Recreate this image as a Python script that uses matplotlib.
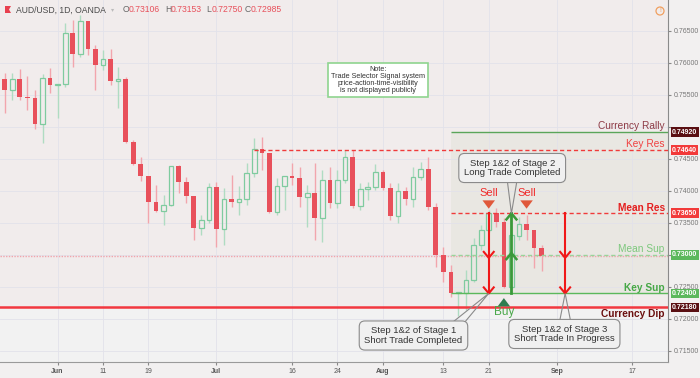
import numpy as np
import matplotlib
matplotlib.use("Agg")
import matplotlib.pyplot as plt
from matplotlib.patches import Polygon, Rectangle, Ellipse

plt.rcParams['font.family'] = ['Liberation Sans', 'DejaVu Sans']

# daily AUD/USD candles, 23 May - 30 Aug
opens = np.array([
    0.7575, 0.75578, 0.7575, 0.75469, 0.75453, 0.75047, 0.75766, 0.75656,
    0.75672, 0.76469, 0.76141, 0.76656, 0.76219, 0.75969, 0.76063, 0.75719,
    0.7575, 0.74766, 0.74422, 0.74234, 0.73828, 0.73688, 0.73781, 0.74391,
    0.74141, 0.73922, 0.73422, 0.73547, 0.74063, 0.73406, 0.73875, 0.73828,
    0.73875, 0.74281, 0.74656, 0.74594, 0.73672, 0.74078, 0.74234, 0.74203,
    0.73906, 0.73969, 0.73578, 0.74172, 0.73813, 0.74172, 0.74531, 0.73766,
    0.74031, 0.74063, 0.74297, 0.74047, 0.73609, 0.74, 0.73875, 0.74219,
    0.74344, 0.7375, 0.73, 0.72734, 0.72406, 0.72406, 0.72609, 0.73156,
    0.73391, 0.73656, 0.73516, 0.725, 0.73297, 0.73484, 0.73391, 0.73106])
highs = np.array([
    0.75844, 0.75844, 0.75906, 0.75797, 0.75578, 0.75828, 0.75922, 0.75672,
    0.76625, 0.76672, 0.7675, 0.76656, 0.76281, 0.76203, 0.76219, 0.75938,
    0.75781, 0.74797, 0.74531, 0.74234, 0.74094, 0.73938, 0.74391, 0.74406,
    0.74219, 0.73922, 0.73625, 0.74125, 0.74141, 0.74047, 0.7425, 0.74078,
    0.74438, 0.74828, 0.74844, 0.74594, 0.74203, 0.74234, 0.74438, 0.74375,
    0.74094, 0.74438, 0.74328, 0.74375, 0.74328, 0.74641, 0.74641, 0.74125,
    0.74141, 0.74422, 0.74328, 0.74125, 0.74125, 0.74063, 0.74375, 0.74453,
    0.74531, 0.73813, 0.73125, 0.72844, 0.72422, 0.72766, 0.73266, 0.73469,
    0.73703, 0.73734, 0.73578, 0.73359, 0.73594, 0.73625, 0.73391, 0.73153])
lows = np.array([
    0.75219, 0.75422, 0.75422, 0.75266, 0.74969, 0.7475, 0.75531, 0.75141,
    0.75625, 0.75938, 0.76094, 0.76125, 0.75578, 0.75891, 0.75656, 0.75297,
    0.7475, 0.74406, 0.74156, 0.735, 0.73672, 0.73469, 0.73766, 0.73969,
    0.73813, 0.73234, 0.73313, 0.735, 0.73125, 0.73156, 0.7375, 0.73625,
    0.73781, 0.74219, 0.74328, 0.73656, 0.73625, 0.73703, 0.74094, 0.7375,
    0.73438, 0.73234, 0.73203, 0.73734, 0.73734, 0.74125, 0.73734, 0.73703,
    0.73859, 0.74016, 0.74016, 0.73547, 0.735, 0.73781, 0.7375, 0.74172,
    0.73703, 0.72813, 0.72578, 0.72344, 0.72047, 0.72141, 0.72578, 0.73078,
    0.73359, 0.73438, 0.72484, 0.72484, 0.73234, 0.73234, 0.72797, 0.7275])
closes = np.array([
    0.75578, 0.7575, 0.75469, 0.75453, 0.75047, 0.75766, 0.75656, 0.75672,
    0.76469, 0.76141, 0.76656, 0.76219, 0.75969, 0.76063, 0.75719, 0.7575,
    0.74766, 0.74422, 0.74234, 0.73828, 0.73688, 0.73781, 0.74391, 0.74141,
    0.73922, 0.73422, 0.73547, 0.74063, 0.73406, 0.73875, 0.73828, 0.73875,
    0.74281, 0.74656, 0.74594, 0.73672, 0.74078, 0.74234, 0.74203, 0.73906,
    0.73969, 0.73578, 0.74172, 0.73813, 0.74172, 0.74531, 0.73766, 0.74031,
    0.74063, 0.74297, 0.74047, 0.73609, 0.74, 0.73875, 0.74219, 0.74344,
    0.7375, 0.73, 0.72734, 0.72406, 0.72422, 0.72609, 0.73156, 0.73391,
    0.73656, 0.73516, 0.725, 0.73313, 0.73484, 0.73391, 0.73109, 0.72985])

date_ticks = [7, 13, 19, 28, 38, 44, 50, 58, 64, 73, 83]
date_labels = ["Jun", "11", "19", "Jul", "16", "24", "Aug", "13", "21", "Sep", "17"]
price_ticks = [0.715, 0.72, 0.725, 0.73, 0.735, 0.74, 0.745, 0.75, 0.755, 0.76, 0.765]

rally, key_res, mean_res = 0.7492, 0.7464, 0.7365
mean_sup, key_sup, dip = 0.7300, 0.7240, 0.7218
last_close = 0.72985
zone_start = 59          # bar where the trade zone begins
sell_bars = [64, 69]
buy_bar = 66
short_arrows = [64, 74.1]
long_arrow = 67

XMIN, XMAX = -0.62, 87.7
YMIN, YMAX = 0.71328, 0.76984

fig = plt.figure(figsize=(7, 3.78), dpi=100, facecolor='#f2f0f0')
ax = fig.add_axes([0, 16 / 378, 668 / 700, 362 / 378])
ax.set_facecolor('#f2f2f2')
ax.set_xlim(XMIN, XMAX)
ax.set_ylim(YMIN, YMAX)

# background tints
ax.add_patch(Rectangle((XMIN, dip), XMAX - XMIN, YMAX - dip, fc='#f1ecec', ec='none', zorder=0))
ax.add_patch(Rectangle((zone_start, key_sup), XMAX - zone_start, rally - key_sup,
                       fc='#e6e6df', ec='none', alpha=0.7, zorder=0.5))

ax.set_axisbelow(True)
ax.grid(color='#e2e2ea', lw=0.6)

# candles
idx = np.arange(len(opens))
up = closes >= opens
lo = np.minimum(opens, closes)
hi = np.maximum(opens, closes)
h = np.maximum(hi - lo, 0.00012)
dn = ~up
ax.vlines(idx[dn], lows[dn], highs[dn], color='#f2a5ad', lw=1, zorder=3)
ax.bar(idx[dn], h[dn], bottom=lo[dn], width=0.62, color='#e8505b', zorder=4)
ax.vlines(idx[up], hi[up], highs[up], color='#afdcc2', lw=1, zorder=3)
ax.vlines(idx[up], lows[up], lo[up], color='#afdcc2', lw=1, zorder=3)
ax.bar(idx[up], h[up], bottom=lo[up], width=0.62, facecolor='none',
       edgecolor='#7fcb9f', lw=0.9, zorder=4)

# level lines
ax.axhline(last_close, color='#f0a4ac', lw=1, ls=(0, (1, 1)), zorder=2)
ax.axhline(dip, color='#f2373f', lw=1.8, zorder=5)
ax.hlines(rally, zone_start, XMAX, color='#5aa55a', lw=1, zorder=5)
ax.hlines(key_res, 33, XMAX, color='#f03a3a', lw=1, ls=(0, (3, 2)), zorder=5)
ax.hlines(mean_res, zone_start, XMAX, color='#f03a3a', lw=1, ls=(0, (3, 2)), zorder=5)
ax.hlines(mean_sup, zone_start, XMAX, color='#9ad49a', lw=1, ls=(0, (3, 2)), zorder=5)
ax.hlines(key_sup, zone_start, XMAX, color='#5cb85c', lw=1, zorder=5)

yt = ax.get_yaxis_transform()
lab = dict(transform=yt, ha='right', fontsize=7.3, zorder=8)
ax.text(0.995, rally + 0.0001, "Currency Rally", color='#8e3b46', va='bottom', **lab)
ax.text(0.995, key_res + 0.0001, "Key Res", color='#f04040', va='bottom', **lab)
ax.text(0.995, mean_res + 0.0001, "Mean Res", color='#e41e1e', va='bottom', fontweight='bold', **lab)
ax.text(0.995, mean_sup + 0.0001, "Mean Sup", color='#7dc87d', va='bottom', **lab)
ax.text(0.995, key_sup + 0.0001, "Key Sup", color='#46a846', va='bottom', fontweight='bold', **lab)
ax.text(0.995, dip - 0.0002, "Currency Dip", color='#6b0f0f', va='top', fontweight='bold', **lab)

# arrows: chevron sizes in data units
cw, chh = 0.66, 0.00094
for xa in short_arrows:
    ax.plot([xa, xa], [mean_res, key_sup], color='#f01818', lw=1.5, zorder=7)
    for tip in (mean_sup - 0.00045, key_sup):
        ax.plot([xa - cw, xa, xa + cw], [tip + chh, tip, tip + chh], color='#f01818', lw=1.5, zorder=7)
ax.plot([long_arrow, long_arrow], [key_sup, mean_res], color='#3a9a3a', lw=2, zorder=7)
for tip in (mean_res, mean_sup + 0.0003):
    ax.plot([long_arrow - cw, long_arrow, long_arrow + cw], [tip - chh, tip, tip - chh],
            color='#3a9a3a', lw=1.8, zorder=7)

for xs in sell_bars:
    ax.text(xs, 0.73969, "Sell", color='#f02a2a', fontsize=8, ha='center', va='center', zorder=8)
    ax.annotate("", xy=(xs, 0.73680), xytext=(xs, 0.73865),
                arrowprops=dict(arrowstyle='simple,head_width=0.9,head_length=0.6,tail_width=0.4',
                                fc='#e0583a', ec='none'), zorder=8)
ax.annotate("", xy=(buy_bar, 0.72370), xytext=(buy_bar, 0.72215),
            arrowprops=dict(arrowstyle='simple,head_width=0.9,head_length=0.6,tail_width=0.4',
                            fc='#2e7d4f', ec='none'), zorder=8)
ax.text(buy_bar, 0.72105, "Buy", color='#4aa84a', fontsize=8.5, ha='center', va='center', zorder=8)


def callout(x, y, text, base, tip):
    ax.add_patch(Polygon([base[0], tip, base[1]], closed=False, fill=False,
                         ec='#8a8a8a', lw=0.8, zorder=9))
    ax.text(x, y, text, ha='center', va='center', fontsize=6.8, color='#333333',
            linespacing=1.1, zorder=10,
            bbox=dict(boxstyle='round,pad=0.55,rounding_size=0.6', fc='#f0f0f0', ec='#8a8a8a', lw=0.8))


callout(67.1, 0.74359, "Step 1&2 of Stage 2\nLong Trade Completed",
        [(66.4, 0.74210), (67.8, 0.74210)], (long_arrow, mean_res))
callout(54.05, 0.71742, "Step 1&2 of Stage 1\nShort Trade Completed",
        [(58.6, 0.71890), (60.4, 0.71890)], (short_arrows[0], key_sup))
callout(74.0, 0.71766, "Step 1&2 of Stage 3\nShort Trade In Progress",
        [(73.3, 0.71920), (74.9, 0.71920)], (short_arrows[1], key_sup))

# note box
ax.text(49.4, 0.75734, "Note:\nTrade Selector Signal system\nprice-action-time-visibility\nis not displayed publicly",
        ha='center', va='center', fontsize=5.2, color='#333333', linespacing=0.95, zorder=10,
        bbox=dict(boxstyle='square,pad=0.4', fc='white', ec='#8fd48f', lw=1.2))

# axes styling
for s in ('top', 'left'):
    ax.spines[s].set_visible(False)
ax.spines['right'].set_color('#8a8a8a')
ax.spines['bottom'].set_color('#9a9a9a')
ax.yaxis.tick_right()
ax.set_yticks(price_ticks)
ax.set_yticklabels(["" if abs(p - 0.75) < 1e-9 or abs(p - 0.73) < 1e-9 else "%.5f" % p
                    for p in price_ticks])
ax.tick_params(axis='y', length=2.5, color='#888888', labelsize=5, labelcolor='#777777', pad=1.5)
ax.set_xticks(date_ticks)
ax.set_xticklabels(date_labels)
for t, l in zip(ax.get_xticklabels(), date_labels):
    if not l.isdigit():
        t.set_fontweight('bold')
ax.tick_params(axis='x', length=2.5, color='#888888', labelsize=5, labelcolor='#555555', pad=2)

# price tags on the scale
tags = [(rally, '#5a0f12'), (key_res, '#f23a3a'), (mean_res, '#f23a3a'),
        (mean_sup, '#5cb85c'), (key_sup, '#5cb85c'), (dip, '#5a0f12')]
for lvl, col in tags:
    ax.text(1.006, lvl, "%.5f" % lvl, transform=yt, ha='left', va='center', fontsize=5,
            color='white', fontweight='bold', clip_on=False, zorder=11,
            bbox=dict(boxstyle='square,pad=0.2', fc=col, ec='none'))

# header
fig.patches.append(Polygon([(5 / 700, 1 - 6 / 378), (11 / 700, 1 - 6 / 378), (9 / 700, 1 - 9.5 / 378),
                            (11 / 700, 1 - 13 / 378), (5 / 700, 1 - 13 / 378)],
                           closed=True, fc='#e8404f', ec='none', transform=fig.transFigure))
fig.text(16 / 700, 1 - 10 / 378, "AUD/USD, 1D, OANDA", fontsize=6.2, color='#4a4a4a', va='center')
fig.text(111 / 700, 1 - 10 / 378, "\u25be", fontsize=4.5, color='#bbbbbb', va='center')
ohlc = [("O", "0.73106", 123), ("H", "0.73153", 165), ("L", "0.72750", 206), ("C", "0.72985", 245)]
for k, v, xp in ohlc:
    fig.text(xp / 700, 1 - 10 / 378, k, fontsize=6.2, color='#666666', va='center')
    fig.text((xp + 6) / 700, 1 - 10 / 378, v, fontsize=6.2, color='#e8505b', va='center')
fig.patches.append(Ellipse((660 / 700, 1 - 11 / 378), 8 / 700, 8 / 378, fill=False, ec='#f0a060', lw=0.9,
                           transform=fig.transFigure))
fig.text(660 / 700, 1 - 11 / 378, "!", fontsize=5, color='#f0a060', ha='center', va='center')

fig.savefig("out.png", dpi=100, facecolor=fig.get_facecolor())
